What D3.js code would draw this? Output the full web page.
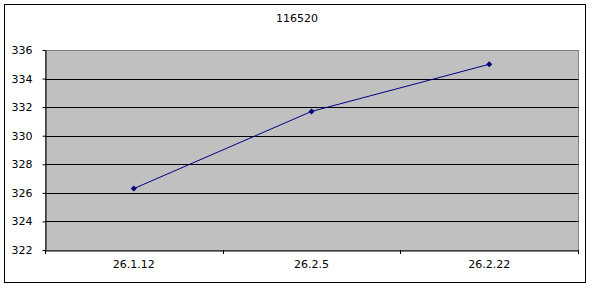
<!DOCTYPE html>
<html>
<head>
<meta charset="utf-8">
<script src="https://cdn.jsdelivr.net/npm/d3@7"></script>
<style>
  body { margin: 0; background: #fff; }
  text { font-family: "DejaVu Sans", sans-serif; font-size: 11px; fill: #000; }
</style>
</head>
<body>
<svg width="592" height="288"></svg>
<script>
let title = '116520';
let categories = ['26.1.12', '26.2.5', '26.2.22'];
let values = [326.3, 331.7, 335.0];
let yTicks = [322, 324, 326, 328, 330, 332, 334, 336];

let svg = d3.select('svg');

let plot = {left: 45, top: 50, right: 578, bottom: 250};

/* outer frame */
svg.append('rect')
  .attr('x', 4.5).attr('y', 4.5).attr('width', 581).attr('height', 278)
  .attr('fill', '#fff').attr('stroke', '#000').attr('stroke-width', 1);

let x = d3.scaleBand().domain(categories).range([plot.left, plot.right]);
let y = d3.scaleLinear().domain([322, 336]).range([plot.bottom, plot.top]);

/* plot background */
svg.append('rect')
  .attr('x', plot.left + 0.5).attr('y', plot.top + 0.5)
  .attr('width', plot.right - plot.left).attr('height', plot.bottom - plot.top)
  .attr('fill', '#c0c0c0').attr('stroke', '#808080');

/* gridlines */
svg.append('g').selectAll('line').data(yTicks.slice(1, -1)).enter().append('line')
  .attr('x1', plot.left).attr('x2', plot.right + 0.5)
  .attr('y1', d => Math.round(y(d)) + 0.5).attr('y2', d => Math.round(y(d)) + 0.5)
  .attr('stroke', '#000');

/* y axis */
let yAxis = svg.append('g')
  .attr('transform', 'translate(' + (plot.left + 0.5) + ',0)')
  .call(d3.axisLeft(y).tickValues(yTicks).tickSize(3).tickSizeOuter(0).tickPadding(10));
yAxis.select('.domain').attr('stroke', '#000');
yAxis.selectAll('text').attr('fill', '#000');

/* x axis */
let xAxis = svg.append('g')
  .attr('transform', 'translate(0,' + (plot.bottom + 0.5) + ')')
  .call(d3.axisBottom(x).tickSize(0).tickPadding(10));
xAxis.select('.domain').attr('stroke', '#000');
xAxis.selectAll('text').attr('fill', '#000');

/* category separators on x axis */
let bounds = categories.map(c => x(c)).concat([plot.right]);
svg.append('g').selectAll('line').data(bounds).enter().append('line')
  .attr('x1', d => Math.round(d) + 0.5).attr('x2', d => Math.round(d) + 0.5)
  .attr('y1', plot.bottom).attr('y2', plot.bottom + 4)
  .attr('stroke', '#000');

/* title */
svg.append('text')
  .attr('x', 297).attr('y', 22).attr('text-anchor', 'middle')
  .text(title);

/* series */
let cx = d => x(d) + x.bandwidth() / 2;
let line = d3.line().x((d, i) => cx(categories[i])).y(d => y(d));
svg.append('path').datum(values)
  .attr('d', line).attr('fill', 'none').attr('stroke', '#000080').attr('stroke-width', 1);

svg.append('g').selectAll('path').data(values).enter().append('path')
  .attr('d', d3.symbol(d3.symbolSquare, 18))
  .attr('transform', (d, i) => 'translate(' + cx(categories[i]) + ',' + y(d) + ') rotate(45)')
  .attr('fill', '#000080');
</script>
</body>
</html>
